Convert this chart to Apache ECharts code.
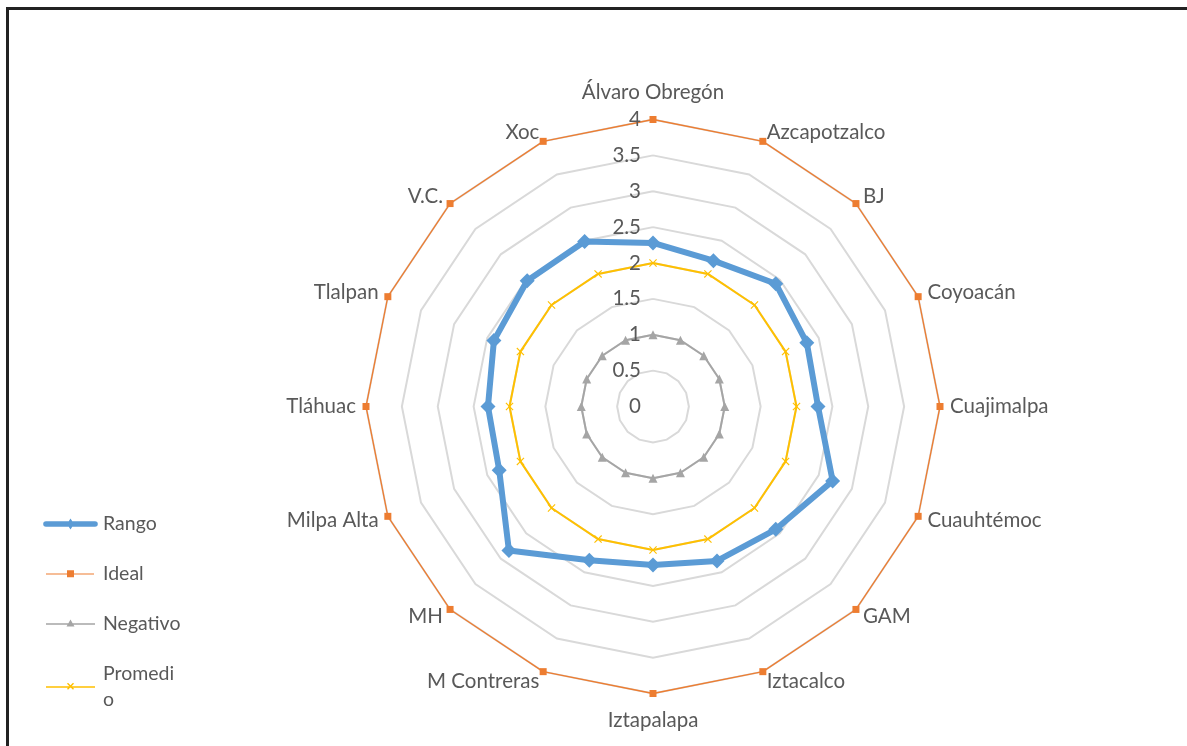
<!DOCTYPE html>
<html>
<head>
<meta charset="utf-8">
<script src="https://cdn.jsdelivr.net/npm/echarts@6/dist/echarts.min.js"></script>
<style>
html,body{margin:0;padding:0;width:1187px;height:746px;overflow:hidden;background:#fff;}
#frame{position:absolute;left:6px;top:7px;width:1200px;height:760px;border:3px solid #222;box-sizing:border-box;}
#chart{position:absolute;left:0;top:0;width:1187px;height:746px;}
</style>
</head>
<body>
<div id="frame"></div>
<div id="chart"></div>
<script>
// Categories in clockwise order, starting at the top
var categories = ['Álvaro Obregón','Azcapotzalco','BJ','Coyoacán','Cuajimalpa','Cuauhtémoc','GAM','Iztacalco','Iztapalapa','M Contreras','MH','Milpa Alta','Tláhuac','Tlalpan','V.C.','Xoc'];
var rango    = [2.28, 2.20, 2.42, 2.32, 2.30, 2.71, 2.42, 2.33, 2.21, 2.32, 2.84, 2.32, 2.30, 2.40, 2.48, 2.49];
var ideal    = [4, 4, 4, 4, 4, 4, 4, 4, 4, 4, 4, 4, 4, 4, 4, 4];
var negativo = [1, 1, 1, 1, 1, 1, 1, 1, 1, 1, 1, 1, 1, 1, 1, 1];
var promedio = [2, 2, 2, 2, 2, 2, 2, 2, 2, 2, 2, 2, 2, 2, 2, 2];
var radialTicks = [0, 0.5, 1, 1.5, 2, 2.5, 3, 3.5, 4];

// ECharts radar runs counter-clockwise: reorder so the picture reads clockwise
var order = [0];
for (var i = categories.length - 1; i >= 1; i--) order.push(i);
function reorder(arr) { return order.map(function (k) { return arr[k]; }); }

var FONT = 'Lato';
var TXT = '#595959';
var CX = 653, CY = 406.5, R = 287;

var pad = 'M0,0h0.01v0.01h-0.01Z M55,14h-0.01v-0.01h0.01Z ';
var iconRango = 'path://' + pad + 'M3,4.2L52,4.2A2.8,2.8 0 0 1 52,9.8L3,9.8A2.8,2.8 0 0 1 3,4.2Z M27.5,1.5L31,7L27.5,12.5L24,7Z';
var iconIdeal = 'path://' + pad + 'M3,6.5L51,6.5L51,7.5L3,7.5Z M24,3.3H31V10.3H24Z';
var iconNeg   = 'path://' + pad + 'M3,6.2L52,6.2L52,7.8L3,7.8Z M27.5,2.5L31.5,9.5H23.5Z';
var iconProm  = 'path://' + pad + 'M3,6.2L52,6.2L52,7.8L3,7.8Z M24,3.8L25,2.8L27.5,5.3L30,2.8L31,3.8L28.5,6.3L31,8.8L30,9.8L27.5,7.3L25,9.8L24,8.8L26.5,6.3Z';
var xSymbol = 'path://M0,1L1,0L5,4L9,0L10,1L6,5L10,9L9,10L5,6L1,10L0,9L4,5Z';

var chart = echarts.init(document.getElementById('chart'), null, {renderer: 'canvas'});
chart.setOption({
  animation: false,
  backgroundColor: 'transparent',
  textStyle: {fontFamily: FONT, color: TXT},
  legend: {
    orient: 'vertical',
    left: 38,
    top: 506,
    itemWidth: 55,
    itemHeight: 14,
    itemGap: 24,
    textStyle: {fontFamily: FONT, fontSize: 19.5, color: TXT, lineHeight: 26},
    formatter: function (name) { return name === 'Promedio' ? 'Promedi\no' : name; },
    data: [
      {name: 'Rango', icon: iconRango},
      {name: 'Ideal', icon: iconIdeal},
      {name: 'Negativo', icon: iconNeg},
      {name: 'Promedio', icon: iconProm}
    ]
  },
  polar: {center: [CX, CY], radius: R},
  angleAxis: {show: false, startAngle: 90, min: 0, max: 360},
  radiusAxis: {
    min: 0, max: 4, interval: 0.5,
    axisLine: {show: false}, axisTick: {show: false}, splitLine: {show: false},
    axisLabel: {
      show: true, color: TXT, fontFamily: FONT, fontSize: 20.5, margin: 12,
      formatter: function (v) { return radialTicks.indexOf(v) >= 0 ? String(v) : ''; }
    },
    z: 10
  },
  radar: {
    center: [CX, CY],
    radius: R,
    startAngle: 90,
    shape: 'polygon',
    splitNumber: 8,
    indicator: reorder(categories).map(function (n) { return {name: n, min: 0, max: 4}; }),
    axisName: {color: TXT, fontFamily: FONT, fontSize: 20.5, padding: [6.5, 0, 6.5, 0]},
    nameGap: 10,
    axisLine: {show: false},
    axisTick: {show: false},
    axisLabel: {show: false},
    splitArea: {show: false},
    splitLine: {lineStyle: {color: '#d9d9d9', width: 2}}
  },
  series: [{
    type: 'radar',
    data: [
      {name: 'Ideal', value: reorder(ideal), symbol: 'rect', symbolSize: 7,
        lineStyle: {color: '#ed7d31', width: 1.3}, itemStyle: {color: '#ed7d31'}},
      {name: 'Negativo', value: reorder(negativo), symbol: 'triangle', symbolSize: 9,
        lineStyle: {color: '#a5a5a5', width: 2}, itemStyle: {color: '#a5a5a5'}},
      {name: 'Promedio', value: reorder(promedio), symbol: xSymbol, symbolSize: 8,
        lineStyle: {color: '#ffc000', width: 2}, itemStyle: {color: '#ffc000'}},
      {name: 'Rango', value: reorder(rango), symbol: 'diamond', symbolSize: 15,
        lineStyle: {color: '#5b9bd5', width: 6}, itemStyle: {color: '#5b9bd5'}}
    ]
  }]
});
</script>
</body>
</html>
